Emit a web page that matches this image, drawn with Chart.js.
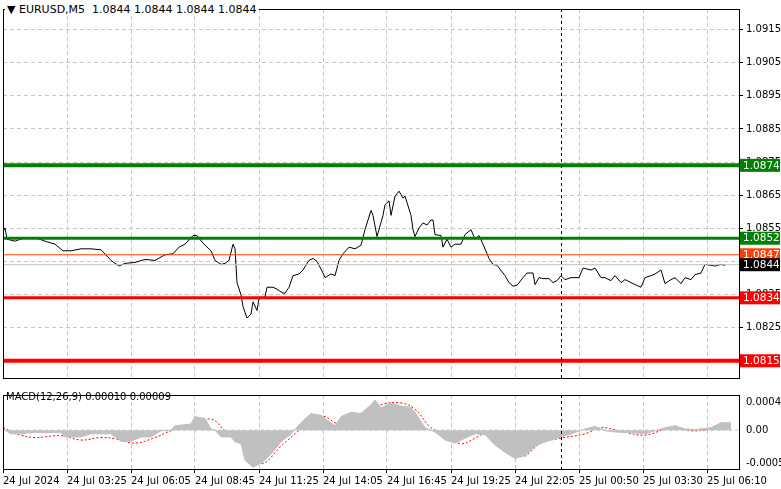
<!DOCTYPE html>
<html><head><meta charset="utf-8">
<script src="https://cdn.jsdelivr.net/npm/chart.js@4/dist/chart.umd.min.js"></script>
<style>
html,body{margin:0;padding:0;background:#fff;width:781px;height:489px;overflow:hidden}
#w1{position:absolute;left:0;top:0;width:781px;height:387px}
#w2{position:absolute;left:0;top:386px;width:781px;height:103px}
#title{position:absolute;left:5px;top:3px;font:11px "DejaVu Sans",sans-serif;color:#000;background:#fff;padding:0 2px}
#mlab{position:absolute;left:6px;top:391px;font:10px "DejaVu Sans",sans-serif;color:#000}
</style></head><body>
<div id="w1"><canvas id="c1"></canvas></div>
<div id="w2"><canvas id="c2"></canvas></div>
<div id="title">▼ EURUSD,M5&nbsp; 1.0844 1.0844 1.0844 1.0844</div>
<div id="mlab">MACD(12,26,9) 0.00010 0.00009</div>
<script>
// ---- data ----
const timeLabels = ["24 Jul 2024","24 Jul 03:25","24 Jul 06:05","24 Jul 08:45","24 Jul 11:25","24 Jul 14:05","24 Jul 16:45","24 Jul 19:25","24 Jul 22:05","25 Jul 00:50","25 Jul 03:30","25 Jul 06:10"];
// [bar index (5-min bars), close]
const closeSeries = [[0,1.08540],[1,1.08551],[2,1.08517],[6,1.08511],[11,1.08522],[16,1.08522],[21,1.08511],[26,1.08502],[30,1.08482],[34,1.08482],[39,1.08488],[44,1.08488],[49,1.08485],[54,1.08453],[58,1.08436],[61,1.08444],[66,1.08447],[71,1.08456],[76,1.08453],[81,1.08470],[85,1.08473],[88,1.08493],[91,1.08502],[95,1.08528],[97,1.08528],[100,1.08505],[104,1.08482],[106,1.08453],[109,1.08441],[111,1.08444],[113,1.08453],[115,1.08502],[116,1.08488],[117,1.08386],[119,1.08349],[120,1.08314],[122,1.08279],[124,1.08291],[125,1.08328],[127,1.08302],[128,1.08337],[131,1.08343],[132,1.08372],[135,1.08372],[137,1.08366],[140,1.08354],[141,1.08354],[143,1.08372],[145,1.08407],[148,1.08412],[150,1.08424],[153,1.08453],[155,1.08459],[157,1.08450],[160,1.08415],[161,1.08401],[164,1.08412],[166,1.08407],[168,1.08453],[170,1.08473],[173,1.08493],[176,1.08488],[179,1.08499],[181,1.08546],[184,1.08604],[185,1.08589],[187,1.08525],[190,1.08589],[191,1.08621],[193,1.08633],[194,1.08589],[196,1.08647],[198,1.08662],[200,1.08641],[201,1.08647],[204,1.08589],[205,1.08546],[206,1.08525],[208,1.08551],[210,1.08566],[212,1.08560],[214,1.08575],[215,1.08575],[216,1.08531],[219,1.08528],[220,1.08493],[222,1.08517],[224,1.08493],[226,1.08502],[229,1.08502],[231,1.08531],[234,1.08546],[236,1.08517],[238,1.08528],[240,1.08502],[243,1.08459],[245,1.08441],[247,1.08438],[250,1.08415],[251,1.08407],[253,1.08386],[255,1.08375],[257,1.08378],[260,1.08401],[262,1.08415],[265,1.08415],[266,1.08380],[268,1.08401],[270,1.08398],[273,1.08398],[275,1.08386],[277,1.08392],[279,1.08407],[281,1.08395],[284,1.08401],[288,1.08401],[290,1.08430],[294,1.08424],[296,1.08430],[299,1.08401],[301,1.08401],[304,1.08392],[306,1.08407],[309,1.08386],[311,1.08395],[315,1.08383],[319,1.08372],[321,1.08401],[324,1.08407],[326,1.08412],[329,1.08424],[331,1.08383],[334,1.08395],[336,1.08401],[339,1.08383],[341,1.08401],[344,1.08395],[346,1.08410],[349,1.08415],[351,1.08441],[354,1.08438],[356,1.08436],[359,1.08441],[361,1.08438]];
const macdHistSeries = [[0,0.00002],[4,-0.00006],[9,-0.00006],[14,-0.00004],[21,-0.00004],[29,-0.00004],[31,-0.00011],[39,-0.00011],[44,-0.00006],[54,-0.00006],[59,-0.00018],[64,-0.00018],[69,-0.00011],[74,-0.00011],[79,-0.00001],[84,0],[86,0.00007],[94,0.00010],[96,0.00022],[99,0.00020],[101,0.00019],[104,0.00002],[106,0],[109,-0.00011],[114,-0.00011],[116,-0.00019],[119,-0.00022],[121,-0.00049],[125,-0.00060],[129,-0.00054],[134,-0.00039],[139,-0.00019],[144,-0.00006],[149,0.00012],[154,0.00027],[159,0.00024],[164,0.00012],[166,0.00007],[169,0.00022],[174,0.00029],[179,0.00027],[184,0.00041],[186,0.00049],[189,0.00036],[194,0.00044],[199,0.00039],[204,0.00037],[207,0.00024],[211,0.00004],[216,-0.00003],[221,-0.00016],[226,-0.00021],[231,-0.00013],[236,-0.00006],[241,-0.00007],[246,-0.00024],[251,-0.00036],[256,-0.00046],[261,-0.00041],[266,-0.00026],[271,-0.00019],[276,-0.00014],[281,-0.00009],[286,-0.00004],[291,0.00002],[296,0.00006],[301,-0.00001],[306,-0.00003],[314,-0.00004],[321,-0.00006],[326,-0.00001],[331,0.00004],[336,0.00007],[341,0.00002],[346,0.00001],[354,0.00004],[359,0.00012],[364,0.00012]];
const macdSignalSeries = [[0,0.00004],[9,-0.00008],[16,-0.00012],[29,-0.00009],[39,-0.00016],[49,-0.00012],[56,-0.00014],[66,-0.00021],[76,-0.00012],[84,-0.00001],[94,0.00007],[104,0.00018],[111,-0.00001],[119,-0.00021],[129,-0.00054],[139,-0.00026],[149,0.00002],[159,0.00023],[169,0.00009],[179,0.00022],[189,0.00041],[199,0.00044],[206,0.00034],[214,0.00004],[221,-0.00006],[229,-0.00022],[236,-0.00013],[241,-0.00006],[246,-0.00016],[259,-0.00043],[269,-0.00021],[279,-0.00013],[291,-0.00006],[299,0.00004],[309,-0.00002],[321,-0.00008],[334,0.00004],[344,-0.00001],[354,0.00002],[361,0.00010]];
const levels = [1.0874,1.0852,1.0847,1.0844,1.0834,1.0815];
const levelColors = ["#008000","#008000","#ff4000","#c0c0c0","#ff0000","#ff0000"];
const levelWidths = [4,3,1,1,3,4];
const levelBoxColors = ["#008000","#008000","#ff4000","#000000","#ff0000","#ff0000"];
const priceTicks = [1.0915,1.0905,1.0895,1.0885,1.0875,1.0865,1.0855,1.0845,1.0835,1.0825,1.0815];
const macdTicks = [0.00045,0,-0.00054];
const cursorBar = 279;

const FONT = {family:'"DejaVu Sans",sans-serif',size:10};
const XMAX = 368.5;
const gridX = timeLabels.map((_,i)=>i*32);
const AXW = 41;
const toXY = s => s.map(p=>({x:p[0],y:p[1]}));

const frame = {id:'frame',afterDraw(c){const a=c.chartArea,x=c.ctx;x.save();x.strokeStyle='#000';x.lineWidth=1;x.strokeRect(a.left+0.5,a.top+0.5,a.right-a.left-1,a.bottom-a.top);
 const px=c.scales.x.getPixelForValue(cursorBar);x.setLineDash([3,3]);x.beginPath();x.moveTo(Math.round(px)+0.5,a.top);x.lineTo(Math.round(px)+0.5,a.bottom);x.stroke();x.restore();}};
const boxes = {id:'boxes',afterDraw(c){const x=c.ctx,ys=c.scales.y;x.save();x.font='10.5px "DejaVu Sans",sans-serif';x.textBaseline='middle';
 levels.forEach((v,i)=>{const py=ys.getPixelForValue(v);x.fillStyle=levelBoxColors[i];x.fillRect(c.chartArea.right,py-6.5,40,13);x.fillStyle='#fff';x.fillText(v.toFixed(4),c.chartArea.right+3,py+0.5);});x.restore();}};

const xScale = (showLabels)=>({type:'linear',min:0,max:XMAX,
  afterBuildTicks(s){s.ticks=gridX.map(v=>({value:v}));},
  ticks:{display:showLabels,autoSkip:false,maxRotation:0,align:'start',font:FONT,color:'#000',padding:2,callback:(v)=>timeLabels[gridX.indexOf(v)]||''},
  grid:{color:'#c8c8c8',borderDash:[4,3],drawTicks:showLabels,tickLength:4,tickColor:'#000'},
  border:{display:false,dash:[4,3]}});

new Chart(document.getElementById('c1'),{type:'line',
 data:{datasets:[
  ...levels.map((v,i)=>({data:[{x:0,y:v},{x:XMAX,y:v}],borderColor:levelColors[i],borderWidth:levelWidths[i],pointRadius:0})),
  {data:toXY(closeSeries),borderColor:'#000',borderWidth:1,pointRadius:0,tension:0}
 ]},
 options:{responsive:true,maintainAspectRatio:false,animation:false,events:[],
  layout:{padding:{left:3,top:0,bottom:0,right:0}},
  plugins:{legend:{display:false},tooltip:{enabled:false}},
  scales:{x:xScale(false),
   y:{position:'right',min:1.08098,max:1.09212,afterFit(s){s.width=AXW;},
    afterBuildTicks(s){s.ticks=priceTicks.map(v=>({value:v}));},
    ticks:{font:FONT,color:'#000',padding:3,callback:v=>v.toFixed(4)},
    grid:{color:'#c8c8c8',drawTicks:true,tickLength:3,tickColor:'#000'},border:{display:false,dash:[4,3]}}}},
 plugins:[frame,boxes]});

new Chart(document.getElementById('c2'),{type:'line',
 data:{datasets:[
  {data:[{x:0,y:0},{x:XMAX,y:0}],borderColor:'#c0c0c0',borderWidth:1,borderDash:[3,3],pointRadius:0},
  {data:toXY(macdHistSeries),borderColor:'#c0c0c0',borderWidth:1,backgroundColor:'#c0c0c0',fill:'origin',pointRadius:0,tension:0},
  {data:toXY(macdSignalSeries),borderColor:'#ff0000',borderWidth:1,borderDash:[2,2],pointRadius:0,tension:0.4}
 ]},
 options:{responsive:true,maintainAspectRatio:false,animation:false,events:[],
  layout:{padding:{left:3,top:0,bottom:0,right:0}},
  plugins:{legend:{display:false},tooltip:{enabled:false}},
  scales:{x:xScale(true),
   y:{position:'right',min:-0.00063,max:0.00057,afterFit(s){s.width=AXW;},
    afterBuildTicks(s){s.ticks=macdTicks.map(v=>({value:v}));},
    ticks:{font:FONT,color:'#000',padding:3,callback:v=>v===0?'0.00':v.toFixed(5)},
    grid:{display:false,drawTicks:true,tickLength:3},border:{display:false}}}},
 plugins:[frame]});
</script></body></html>
